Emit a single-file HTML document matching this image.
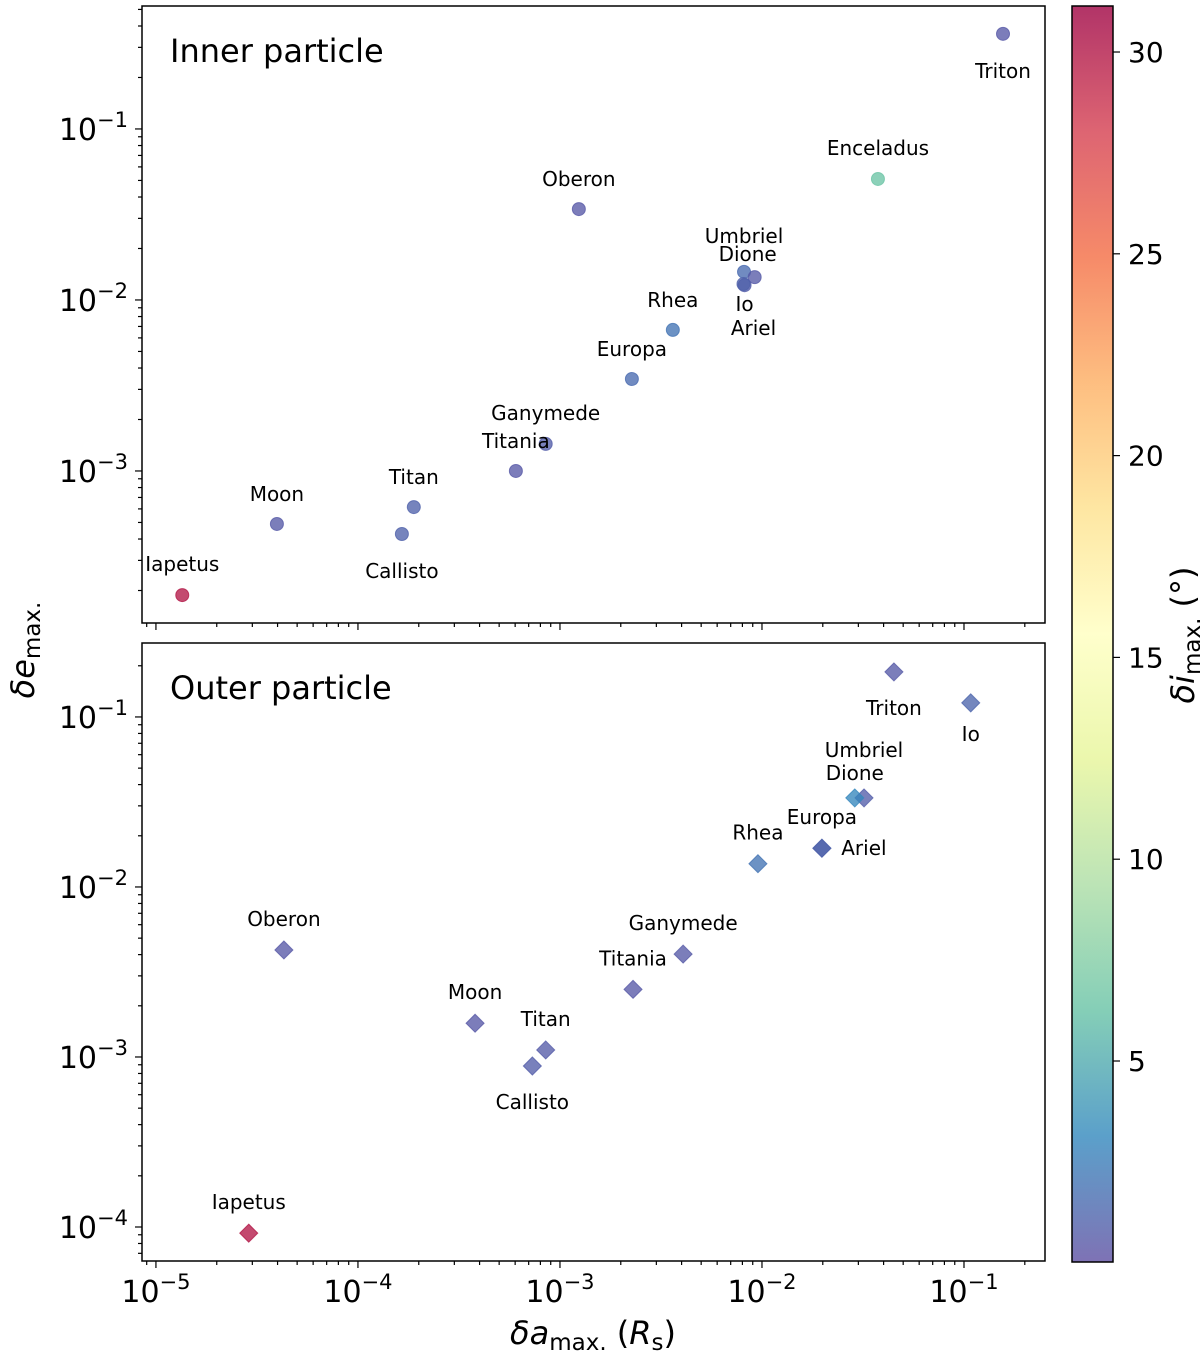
<!DOCTYPE html>
<html><head><meta charset="utf-8"><style>
html,body{margin:0;padding:0;background:#fff}
svg{display:block;font-family:"DejaVu Sans","Liberation Sans",sans-serif}
</style></head><body>
<svg id="chart" width="1200" height="1355" viewBox="0 0 1200 1355" xmlns="http://www.w3.org/2000/svg">
<defs>
<linearGradient id="cbg" x1="0" y1="1" x2="0" y2="0">
<stop offset="0" stop-color="#5e4fa2"/><stop offset="0.1" stop-color="#3288bd"/><stop offset="0.2" stop-color="#66c2a5"/><stop offset="0.3" stop-color="#abdda4"/><stop offset="0.4" stop-color="#e6f598"/><stop offset="0.5" stop-color="#ffffbf"/><stop offset="0.6" stop-color="#fee08b"/><stop offset="0.7" stop-color="#fdae61"/><stop offset="0.8" stop-color="#f46d43"/><stop offset="0.9" stop-color="#d53e4f"/><stop offset="1" stop-color="#9e0142"/>
</linearGradient>
</defs>
<g id="g"></g>
</svg>
<script>
// Inner particle data
const innerNames = ["Triton","Enceladus","Oberon","Umbriel","Dione","Io","Ariel","Rhea","Europa","Ganymede","Titania","Titan","Callisto","Moon","Iapetus"];
const innerDa = [0.156,0.0375,1.24e-3,8.15e-3,9.2e-3,8.2e-3,8.1e-3,3.62e-3,2.27e-3,8.5e-4,6.05e-4,1.89e-4,1.65e-4,3.97e-5,1.35e-5];
const innerDe = [0.36,0.051,0.034,0.0146,0.0136,0.0122,0.0124,6.68e-3,3.45e-3,1.44e-3,1.0e-3,6.15e-4,4.28e-4,4.9e-4,1.88e-4];
const innerDi = [0.5,6.5,0.5,1.5,0.6,0.8,1.0,2.0,1.5,0.8,0.5,1.0,1.0,0.6,30];
// Outer particle data
const outerNames = ["Triton","Io","Umbriel","Dione","Europa","Ariel","Rhea","Ganymede","Titania","Titan","Callisto","Moon","Oberon","Iapetus"];
const outerDa = [0.045,0.108,0.032,0.0288,0.0198,0.0198,9.55e-3,4.07e-3,2.3e-3,8.5e-4,7.3e-4,3.8e-4,4.3e-5,2.88e-5];
const outerDe = [0.184,0.121,0.0334,0.0334,0.0169,0.0169,0.0137,4.03e-3,2.5e-3,1.1e-3,8.85e-4,1.58e-3,4.26e-3,9.2e-5];
const outerDi = [0.6,1.2,0.8,3.0,1.2,1.0,2.0,0.6,0.5,0.7,0.8,0.5,0.5,30];
const cbTicks = [5,10,15,20,25,30];
const xTickExp = [-5,-4,-3,-2,-1];

const NS="http://www.w3.org/2000/svg";
const G=document.getElementById('g');
function mk(tag,attrs,parent){const e=document.createElementNS(NS,tag);for(const k in attrs)e.setAttribute(k,attrs[k]);(parent||G).appendChild(e);return e;}

const X0=142,X1=1045, XL0=-5.069, XL1=-0.599;
const xs=v=>X0+(Math.log10(v)-XL0)/(XL1-XL0)*(X1-X0);
const panels=[
 {top:6,bot:623,l0:-3.889,l1:-0.281,exps:[-3,-2,-1],title:"Inner particle",names:innerNames,da:innerDa,de:innerDe,di:innerDi,shape:"circle",name:"inner",
  off:[[0,37],[0,-31],[0,-30],[0,-36],[-7,-23],[0,19],[10,44],[0,-30],[0,-30],[0,-31],[0,-30],[0,-30],[0,37],[0,-30],[0,-31]]},
 {top:643,bot:1261,l0:-4.2,l1:-0.565,exps:[-4,-3,-2,-1],title:"Outer particle",names:outerNames,da:outerDa,de:outerDe,di:outerDi,shape:"diamond",name:"outer",
  off:[[0,36],[0,31],[0,-48],[0,-25],[0,-31],[42,0],[0,-31],[0,-31],[0,-31],[0,-31],[0,36],[0,-31],[0,-31],[0,-31]]}
];
const VMIN=0.02,VMAX=31.14;
const stops=["#5e4fa2","#3288bd","#66c2a5","#abdda4","#e6f598","#ffffbf","#fee08b","#fdae61","#f46d43","#d53e4f","#9e0142"];
function hex(h){return [1,3,5].map(i=>parseInt(h.substr(i,2),16));}
function cmap(v){let t=Math.max(0,Math.min(1,(v-VMIN)/(VMAX-VMIN)))*10;const i=Math.min(9,Math.floor(t));const f=t-i;const a=hex(stops[i]),b=hex(stops[i+1]);return "rgb("+a.map((c,k)=>Math.round(c+(b[k]-c)*f)).join(",")+")";}

function tickLabel(x,y,exp,anchor,pname){
  const t=mk('text',{x:x,y:y,'font-size':30,'text-anchor':anchor,fill:'#000'});
  
  
  t.appendChild(document.createTextNode("10"));
  const s=mk('tspan',{'font-size':21,dy:-13},t);s.textContent="\u2212"+Math.abs(exp);
}

panels.forEach(p=>{
  const ys=v=>p.bot-(Math.log10(v)-p.l0)/(p.l1-p.l0)*(p.bot-p.top);
  const ax=mk('g',{});
  
  
  for(let e=-6;e<=0;e++){for(let m=1;m<10;m++){const v=m*Math.pow(10,e);const x=xs(v);if(x<X0||x>X1)continue;
    const tk=mk('line',{x1:x,x2:x,y1:p.bot,y2:p.bot+(m==1?7:4),stroke:'#000','stroke-width':1.2},ax);
    
    }}
  for(let e=-6;e<=0;e++){for(let m=1;m<10;m++){const v=m*Math.pow(10,e);const y=ys(v);if(y<p.top||y>p.bot)continue;
    const tk=mk('line',{x1:X0,x2:X0-(m==1?7:4),y1:y,y2:y,stroke:'#000','stroke-width':1.2},ax);
    
    }}
  p.exps.forEach(e=>tickLabel(X0-14,ys(Math.pow(10,e))+11,e,'end','y-tick-label'));
  const fr=mk('rect',{x:X0,y:p.top,width:X1-X0,height:p.bot-p.top,fill:'none',stroke:'#000','stroke-width':1.5},ax);
  
  
  const tt=mk('text',{x:170,y:p.top+56,'font-size':32,fill:'#000'},ax);tt.textContent=p.title;
  
  
  p.names.forEach((n,i)=>{
    const x=xs(p.da[i]),y=ys(p.de[i]);const c=cmap(p.di[i]);
    let m;
    if(p.shape=="circle") m=mk('circle',{cx:x,cy:y,r:6.5,fill:c,'fill-opacity':0.78,stroke:c,'stroke-opacity':0.78,'stroke-width':1},ax);
    else m=mk('polygon',{points:[x,y-9,x+9,y,x,y+9,x-9,y].join(" ").replace(/(\S+) (\S+)/g,"$1,$2"),fill:c,'fill-opacity':0.78,stroke:c,'stroke-opacity':0.78,'stroke-width':1},ax);
    
    
    const lb=mk('text',{x:x+p.off[i][0],y:y+p.off[i][1]+7,'font-size':20,'text-anchor':'middle',fill:'#000'},ax);lb.textContent=n;
    
    
  });
});
xTickExp.forEach(e=>tickLabel(xs(Math.pow(10,e)),1302,e,'middle','x-tick-label'));

const xt=mk('text',{x:593,y:1344,'font-size':32,'text-anchor':'middle',fill:'#000'});


xt.innerHTML='<tspan font-style="italic">δa</tspan><tspan font-size="23" dy="6">max.</tspan><tspan dy="-6"> (</tspan><tspan font-style="italic">R</tspan><tspan font-size="23" dy="6">s</tspan><tspan dy="-6">)</tspan>';
const yt=mk('text',{x:0,y:0,'font-size':32,'text-anchor':'middle',fill:'#000',transform:'translate(34,650) rotate(-90)'});


yt.innerHTML='<tspan font-style="italic">δe</tspan><tspan font-size="23" dy="6">max.</tspan>';

const CB0=6,CB1=1262;
const cys=v=>CB1-(v-VMIN)/(VMAX-VMIN)*(CB1-CB0);
const cbf=mk('rect',{x:1072,y:CB0,width:41,height:CB1-CB0,fill:'url(#cbg)','fill-opacity':0.8});


const cb=mk('rect',{x:1072,y:CB0,width:41,height:CB1-CB0,fill:'none',stroke:'#000','stroke-width':1.5});


cbTicks.forEach(v=>{const y=cys(v);
  const tk=mk('line',{x1:1113,x2:1120,y1:y,y2:y,stroke:'#000','stroke-width':1.2});
  
  
  const t=mk('text',{x:1128,y:y+10,'font-size':28,fill:'#000'});t.textContent=v;
  
  });
const ct=mk('text',{x:0,y:0,'font-size':32,'text-anchor':'middle',fill:'#000',transform:'translate(1194,635) rotate(-90)'});


ct.innerHTML='<tspan font-style="italic">δi</tspan><tspan font-size="23" dy="6">max.</tspan><tspan dy="-6">  (°)</tspan>';
</script>
</body></html>
